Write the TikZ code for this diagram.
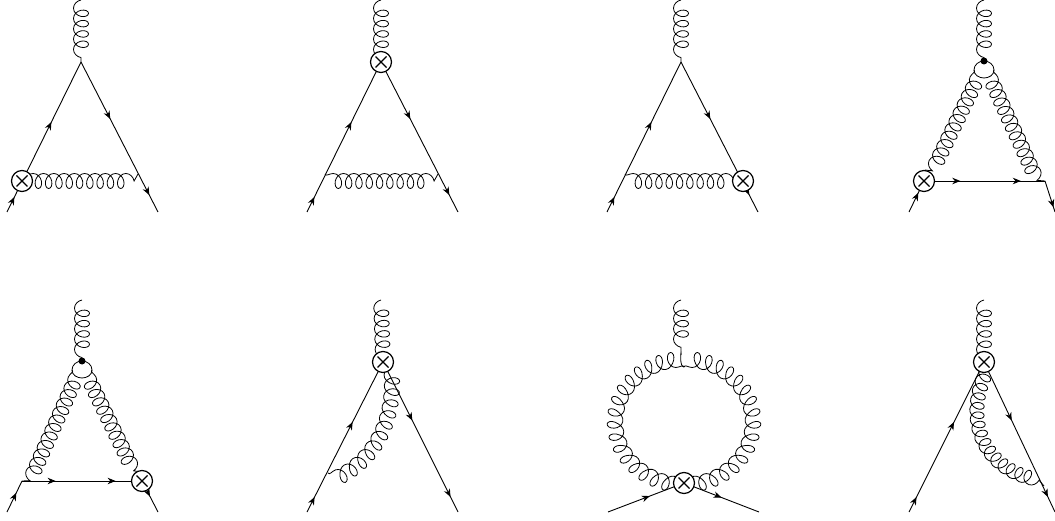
\documentclass[tikz,border=0pt]{standalone}
\usepackage{xcolor}
\usepackage{tikz}
\usetikzlibrary{arrows.meta, decorations.pathmorphing, decorations.markings}
\tikzset{
  fermion/.style={line width=0.9pt},
  midarrow/.style={postaction={decorate, decoration={markings,
    mark=at position #1 with {\arrow{Stealth[length=8pt,width=6.5pt]}}}}},
  gluon/.style={line width=0.8pt, decorate,
    decoration={coil, aspect=0.75, amplitude=7.5pt, segment length=10.3pt, raise=-7pt}},
  gluonb/.style={line width=0.8pt, decorate,
    decoration={coil, aspect=0.75, amplitude=7.5pt, segment length=10.3pt, mirror, raise=-7pt}},
  external/.style={gluonb, decoration={raise=0pt}},
  tight/.style={decoration={segment length=9.3pt}},
  stub/.style={line width=0.8pt},
  insertion/.style={circle, draw, line width=1.2pt, fill=white, minimum size=21pt, inner sep=0pt,
    path picture={
      \draw[line width=1.2pt] (path picture bounding box.center) ++(-5.5pt,-5.5pt) -- ++(11pt,11pt);
      \draw[line width=1.2pt] (path picture bounding box.center) ++(-5.5pt,5.5pt) -- ++(11pt,-11pt);
    }},
  vertexdot/.style={circle, fill=black, inner sep=0pt, minimum size=7pt},
}
\begin{document}
\begin{tikzpicture}[x=1pt,y=-1pt]
  \useasboundingbox (0,0) rectangle (1055,521);
  % top row, first
  \coordinate (aT) at (81,62);
  \coordinate (aG) at (81,0);
  \coordinate (aL) at (7,212);
  \coordinate (aR) at (158,212);
  \coordinate (aP) at (25,174);
  \coordinate (aQ) at (138,174);
  \draw[external] (aG)--(aT);
  \draw[fermion,midarrow=0.1,midarrow=0.6] (aL)--(aT);
  \draw[fermion,midarrow=0.38,midarrow=0.887] (aT)--(aR);
  \draw[gluon] (aP)--(aQ);
  \node[insertion] (aX) at (22,181) {};
  % top row, second
  \coordinate (bT) at (381,62);
  \coordinate (bG) at (381,0);
  \coordinate (bL) at (307,212);
  \coordinate (bR) at (458,212);
  \coordinate (bP) at (325,174);
  \coordinate (bQ) at (438,174);
  \draw[external] (bG)--(bT);
  \draw[fermion,midarrow=0.1,midarrow=0.6] (bL)--(bT);
  \draw[fermion,midarrow=0.38,midarrow=0.887] (bT)--(bR);
  \draw[gluon] (bP)--(bQ);
  \node[insertion] (bX) at (bT) {};
  % top row, third
  \coordinate (cT) at (681,62);
  \coordinate (cG) at (681,0);
  \coordinate (cL) at (607,212);
  \coordinate (cR) at (758,212);
  \coordinate (cP) at (625,174);
  \coordinate (cQ) at (738,174);
  \draw[external] (cG)--(cT);
  \draw[fermion,midarrow=0.1,midarrow=0.6] (cL)--(cT);
  \draw[fermion,midarrow=0.38,midarrow=0.887] (cT)--(cR);
  \draw[gluon] (cP)--(cQ);
  \node[insertion] (cX) at (743,181) {};
  % top row, fourth
  \coordinate (dT) at (984,61);
  \coordinate (dG) at (984,0);
  \coordinate (dL) at (909,212);
  \coordinate (dR) at (1055,212);
  \coordinate (dP) at (924,181);
  \coordinate (dQ) at (1045,181);
  \coordinate (dA) at (974,70);
  \coordinate (dB) at (994,70);
  \coordinate (dY) at (984,78);
  \coordinate (dC) at (925,170);
  \draw[external] (dG)--(dT);
  \draw[stub] (dT) to[out=180,in=90] (dA) to[out=-90,in=180] (dY);
  \draw[stub] (dT) to[out=0,in=90] (dB) to[out=-90,in=0] (dY);
  \draw[gluonb,tight] (dA)--(dC);
  \draw[gluon,tight] (dB)--(dQ);
  \draw[fermion,midarrow=0.3,midarrow=0.8] (dP)--(dQ);
  \draw[fermion,midarrow=0.62] (dL)--(dP);
  \draw[fermion,midarrow=0.85] (dQ)--(dR);
  \node[insertion] (dX) at (dP) {};
  \node[vertexdot] (dV) at (dT) {};
  % bottom row, first
  \coordinate (eT) at (82,361);
  \coordinate (eG) at (82,300);
  \coordinate (eL) at (7,512);
  \coordinate (eR) at (158,512);
  \coordinate (eP) at (22,481);
  \coordinate (eQ) at (142,481);
  \coordinate (eA) at (72,370);
  \coordinate (eB) at (92,370);
  \coordinate (eY) at (82,378);
  \coordinate (eD) at (142,472);
  \draw[external] (eG)--(eT);
  \draw[stub] (eT) to[out=180,in=90] (eA) to[out=-90,in=180] (eY);
  \draw[stub] (eT) to[out=0,in=90] (eB) to[out=-90,in=0] (eY);
  \draw[gluonb,tight] (eA)--(eP);
  \draw[gluon,tight] (eB)--(eD);
  \draw[fermion,midarrow=0.28,midarrow=0.78] (eP)--(eQ);
  \draw[fermion,midarrow=0.62] (eL)--(eP);
  \draw[fermion,midarrow=0.5] (eQ)--(eR);
  \node[insertion] (eX) at (eQ) {};
  \node[vertexdot] (eV) at (eT) {};
  % bottom row, second
  \coordinate (fT) at (383,362);
  \coordinate (fG) at (381,300);
  \coordinate (fL) at (307,512);
  \coordinate (fR) at (458,512);
  \coordinate (fP) at (328,473);
  \draw[external] (fG)--(fT);
  \draw[fermion,midarrow=0.1,midarrow=0.6] (fL)--(fT);
  \draw[fermion,midarrow=0.39,midarrow=0.9] (fT)--(fR);
  \draw[gluon] (fP) .. controls (360,462) and (392,425) .. (fT);
  \node[insertion] (fX) at (fT) {};
  % bottom row, third
  \coordinate (gX) at (684,483);
  \coordinate (gT) at (684,367);
  \coordinate (gJ) at (681,355);
  \coordinate (gG) at (681,300);
  \coordinate (gL) at (608,512);
  \coordinate (gR) at (759,512);
  \draw[external] (gG)--(gJ);
  \draw[stub] (gJ) to[out=90,in=180] (gT);
  \draw[gluon] (gT) arc[start angle=-90,end angle=-270,x radius=61,y radius=55];
  \draw[gluonb] (gT) arc[start angle=-90,end angle=90,x radius=61,y radius=55];
  \draw[fermion,midarrow=0.55] (gL)--(gX);
  \draw[fermion,midarrow=0.5] (gX)--(gR);
  \node[insertion] (gI) at (gX) {};
  % bottom row, fourth
  \coordinate (hT) at (984,362);
  \coordinate (hG) at (984,300);
  \coordinate (hL) at (909,512);
  \coordinate (hR) at (1055,512);
  \coordinate (hP) at (1044,486);
  \draw[external] (hG)--(hT);
  \draw[fermion,midarrow=0.1,midarrow=0.6] (hL)--(hT);
  \draw[fermion,midarrow=0.39,midarrow=0.9] (hT)--(hR);
  \draw[gluonb] (hT) .. controls (950,425) and (985,482) .. (hP);
  \node[insertion] (hX) at (hT) {};
\end{tikzpicture}
\end{document}
